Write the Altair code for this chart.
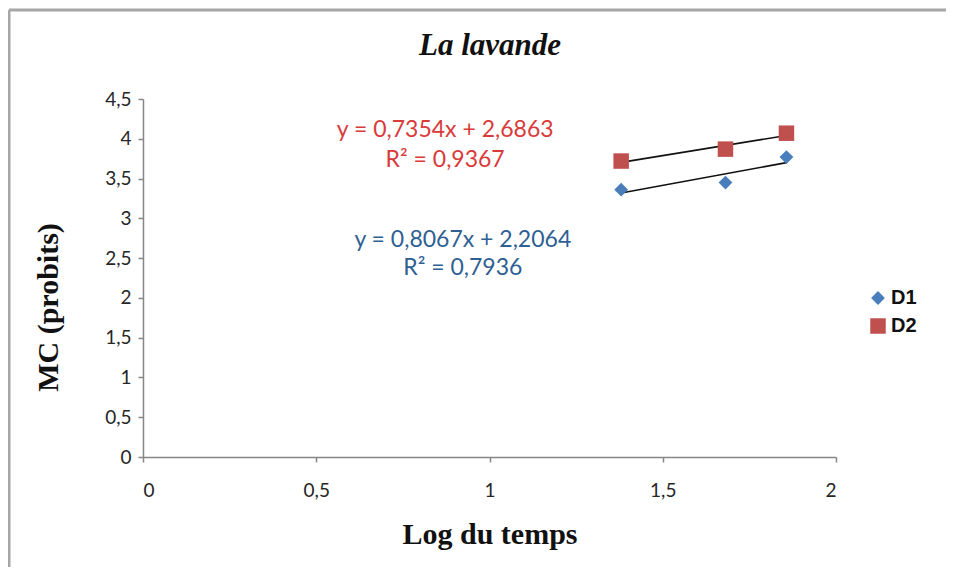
import altair as alt
import pandas as pd

# ---- data ----
log_temps = [1.380, 1.681, 1.857]
d1_probits = [3.36, 3.45, 3.77]
d2_probits = [3.72, 3.87, 4.07]
series_names = ["D1", "D2"]

chart_title = "La lavande"
eq_texts = ["y = 0,7354x + 2,6863", "R² = 0,9367", "y = 0,8067x + 2,2064", "R² = 0,7936"]
eq_x = [0.872, 0.872, 0.923, 0.923]
eq_y = [4.11, 3.73, 2.73, 2.38]
eq_series = ["D2", "D2", "D1", "D1"]

x_ticks = [0, 0.5, 1, 1.5, 2]
y_ticks = [0, 0.5, 1, 1.5, 2, 2.5, 3, 3.5, 4, 4.5]

rows = []
for s, vals in zip(series_names, [d1_probits, d2_probits]):
    for x, y in zip(log_temps, vals):
        rows.append({"x": x, "y": y, "serie": s})
df = pd.DataFrame(rows)
df_eq = pd.DataFrame({"x": eq_x, "y": eq_y, "t": eq_texts, "serie": eq_series})

comma = "replace(toString(datum.value), '.', ',')"
xs = alt.Scale(domain=[0, 2], nice=False, zero=False)
ys = alt.Scale(domain=[0, 4.5], nice=False, zero=False)

common = dict(grid=False, tickSize=5, labelOverlap=False, labelFont="Lato", labelFontSize=19,
              labelColor="#262626", domainColor="#868686", tickColor="#868686",
              domainWidth=1.5, tickWidth=1.5, labelExpr=comma,
              titleFont="Liberation Serif", titleFontSize=30, titleFontWeight="bold",
              titleColor="#111")
x_axis = alt.Axis(values=x_ticks, labelPadding=19, title="Log du temps",
                  titleY=86, titleBaseline="alphabetic", **common)
y_axis = alt.Axis(values=y_ticks, labelPadding=7, title="MC (probits)",
                  titleX=-95, titleY=208, titleBaseline="middle", **common)

legend = alt.Legend(title=None, orient="none", legendX=725, legendY=189,
                    labelFont="Liberation Sans", labelFontWeight="bold",
                    labelFontSize=20, labelColor="#111", rowPadding=8, labelOffset=3,
                    symbolOpacity=1, symbolSize=190, symbolStrokeWidth=0)
color = alt.Color("serie:N", scale=alt.Scale(domain=series_names, range=["#4a7ebb", "#c0504d"]),
                  legend=legend)
shape = alt.Shape("serie:N", scale=alt.Scale(domain=series_names, range=["diamond", "square"]),
                  legend=legend)

base = alt.Chart(df)
X = alt.X("x:Q", scale=xs, axis=x_axis)
Y = alt.Y("y:Q", scale=ys, axis=y_axis)

lines = base.transform_regression("x", "y", groupby=["serie"]).mark_line(
    color="#111", strokeWidth=1.6
).encode(x=X, y=Y, detail="serie:N")

points = base.mark_point(filled=True, opacity=1).encode(
    x=X, y=Y, color=color, shape=shape,
    size=alt.Size("serie:N", scale=alt.Scale(domain=series_names, range=[190, 240]), legend=None),
)

eq_base = alt.Chart(df_eq)
eq_d2 = eq_base.transform_filter(alt.datum.serie == "D2").mark_text(
    font="Lato", fontSize=23, align="center", baseline="middle", color="#d93a3a").encode(
    x=X, y=Y, text="t:N")
eq_d1 = eq_base.transform_filter(alt.datum.serie == "D1").mark_text(
    font="Lato", fontSize=23, align="center", baseline="middle", color="#2f5f93").encode(
    x=X, y=Y, text="t:N")

frame_df = pd.DataFrame({"a": [0]})
left_edge = alt.Chart(frame_df).mark_rule(color="#a6a6a6", strokeWidth=3).encode(
    x=alt.value(-134), y=alt.value(-89), y2=alt.value(480))
top_edge = alt.Chart(frame_df).mark_rule(color="#a6a6a6", strokeWidth=3).encode(
    x=alt.value(-134), x2=alt.value(820), y=alt.value(-89))
title_df = pd.DataFrame({"t": [chart_title]})
title_mark = alt.Chart(title_df).mark_text(
    font="Liberation Serif", fontSize=31, fontStyle="italic", fontWeight="bold",
    color="#111", align="center", baseline="alphabetic"
).encode(x=alt.value(347), y=alt.value(-44), text="t:N")

chart = alt.layer(lines, points, eq_d2, eq_d1, left_edge, top_edge, title_mark).properties(
    width=693, height=358,
    autosize=alt.AutoSizeParams(type="none"),
    padding={"left": 135, "top": 91, "right": 110, "bottom": 110},
).configure_view(stroke=None)

chart.save("out.html", embed_options={"renderer": "svg", "actions": False})
